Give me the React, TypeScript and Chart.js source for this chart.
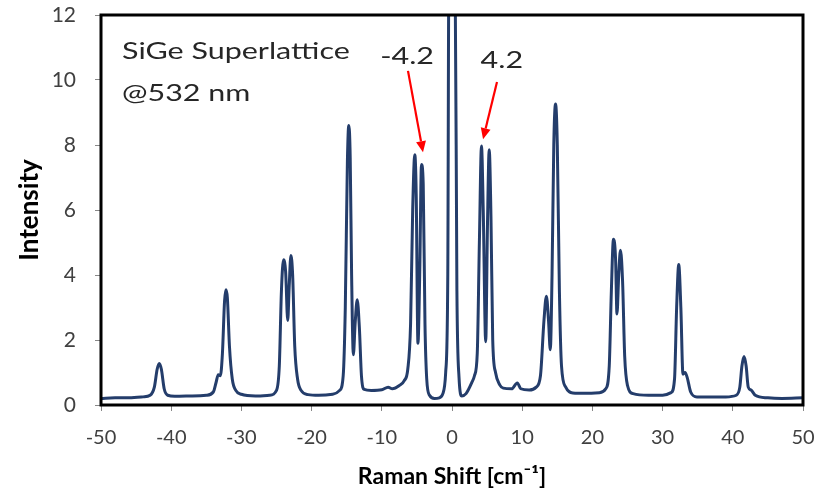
import React, { useEffect, useRef } from "react";
import { Chart, registerables } from "chart.js";

Chart.register(...registerables);

// Raman shift (cm^-1) sample positions
const shifts: number[] = [
  -50, -48, -46, -44, -43, -42.4, -42.0, -41.7, -41.4, -41.0, -40.5, -39.5, -37, -35,
  -34, -33.6, -33.3, -33.0, -32.7, -32.4, -32.2, -32.0, -31.7, -31.3, -30.8, -30, -28, -26,
  -25, -24.6, -24.3, -24.0, -23.7, -23.4, -23.2, -22.95, -22.7, -22.4, -22.0, -21.5, -20.5,
  -19, -17, -16, -15.5, -15.2, -14.9, -14.7, -14.5, -14.3, -14.05, -13.8, -13.5, -13.2,
  -12.9, -12.5, -11.5, -10, -9.1, -8.5, -7.5, -6.8, -6.3, -5.9, -5.6, -5.3, -5.1, -4.85,
  -4.6, -4.35, -4.1, -3.85, -3.6, -3.2, -2.5, -1.8, -1.3, -0.9, -0.6, -0.45, 0.45, 0.7,
  1.0, 1.4, 2.0, 2.8, 3.2, 3.6, 3.9, 4.2, 4.45, 4.8, 5.05, 5.3, 5.55, 5.8, 6.2, 6.8, 7.3,
  8.5, 9.3, 9.8, 11, 12, 12.6, 13.1, 13.45, 13.75, 14.0, 14.25, 14.5, 14.75, 15.0, 15.3,
  15.6, 16.2, 17.2, 19, 21, 21.9, 22.4, 22.7, 23.0, 23.3, 23.5, 23.75, 24.0, 24.3, 24.6,
  25.0, 25.8, 28, 30, 31.2, 31.7, 32.0, 32.3, 32.6, 32.9, 33.2, 33.5, 34.0, 34.9, 37, 39,
  40.5, 41.0, 41.3, 41.6, 41.9, 42.2, 42.6, 43.2, 45, 47, 50,
];

// Intensity at each shift
const intensities: number[] = [
  0.2, 0.22, 0.22, 0.25, 0.3, 0.55, 1.1, 1.28, 1.1, 0.5, 0.3, 0.27, 0.28, 0.3,
  0.4, 0.7, 0.93, 0.9, 1.6, 3.2, 3.55, 3.3, 1.8, 0.8, 0.45, 0.33, 0.28, 0.3,
  0.45, 1.2, 3.5, 4.47, 4.1, 2.6, 3.6, 4.6, 4.0, 1.8, 0.8, 0.45, 0.32,
  0.3, 0.33, 0.45, 0.9, 3.0, 7.5, 8.6, 7.6, 4.0, 1.55, 2.5, 3.24, 2.4,
  0.9, 0.48, 0.45, 0.47, 0.55, 0.5, 0.6, 0.75, 1.1, 2.5, 6.0, 7.7, 6.5, 1.9,
  4.0, 7.4, 6.8, 2.5, 0.8, 0.3, 0.2, 0.22, 0.35, 1.0, 4.0, 13, 13, 3.5,
  0.85, 0.28, 0.35, 0.68, 0.9, 1.6, 5.0, 7.97, 6.0, 1.95, 5.5, 7.85, 5.8, 2.0, 1.0, 0.62, 0.52,
  0.5, 0.68, 0.5, 0.46, 0.55, 0.9, 2.6, 3.35, 2.6, 1.7, 4.0, 8.0, 9.26, 8.0, 3.5,
  1.2, 0.55, 0.37, 0.36, 0.38, 0.5, 1.2, 3.5, 5.1, 4.5, 2.8, 4.0, 4.76, 3.8, 1.5,
  0.6, 0.35, 0.3, 0.3, 0.38, 0.8, 3.0, 4.32, 3.0, 0.95, 1.0, 0.85, 0.4, 0.25, 0.25, 0.25,
  0.3, 0.55, 1.2, 1.49, 1.2, 0.55, 0.46, 0.3, 0.22, 0.2, 0.22,
];

const xTicks: number[] = [-50, -40, -30, -20, -10, 0, 10, 20, 30, 40, 50];
const yTicks: number[] = [0, 2, 4, 6, 8, 10, 12];

const labelLines: string[] = ["SiGe Superlattice", "@532 nm"];
// arrow annotations in data coordinates: label anchor, arrow start, arrow tip
const arrowLabels: { text: string; at: [number, number]; from: [number, number]; to: [number, number] }[] = [
  { text: "-4.2", at: [-6.4, 10.49], from: [-6.27, 10.28], to: [-4.13, 7.78] },
  { text: "4.2", at: [7.1, 10.37], from: [6.41, 9.94], to: [4.42, 8.18] },
];

const FONT = "Lato, 'Open Sans', sans-serif";

export default function App() {
  const canvasRef = useRef<HTMLCanvasElement | null>(null);

  useEffect(() => {
    document.body.style.margin = "0";
    const canvas = canvasRef.current;
    if (!canvas) return;

    const stretchText = (ctx: any, text: string, x: number, y: number, align: string) => {
      const sx = 1.27;
      const w = ctx.measureText(text).width * sx;
      let left = x;
      if (align === "center") left = x - w / 2;
      ctx.save();
      ctx.translate(left, y);
      ctx.scale(sx, 1);
      ctx.textAlign = "left";
      ctx.fillText(text, 0, 0);
      ctx.restore();
    };

    const overlay = {
      id: "overlay",
      afterDraw(chart: any) {
        const { ctx, chartArea } = chart;
        const xs = chart.scales.x;
        const ys = chart.scales.y;
        ctx.save();
        // plot border
        ctx.strokeStyle = "#000";
        ctx.lineWidth = 3;
        ctx.strokeRect(chartArea.left, chartArea.top, chartArea.right - chartArea.left, chartArea.bottom - chartArea.top);

        // inset label
        ctx.fillStyle = "#262626";
        ctx.font = `24px ${FONT}`;
        ctx.textBaseline = "alphabetic";
        stretchText(ctx, labelLines[0], chartArea.left + 21, 59, "left");
        stretchText(ctx, labelLines[1], chartArea.left + 21, 101, "left");

        // arrow annotations
        arrowLabels.forEach((a) => {
          const x1 = xs.getPixelForValue(a.from[0]);
          const y1 = ys.getPixelForValue(a.from[1]);
          const x2 = xs.getPixelForValue(a.to[0]);
          const y2 = ys.getPixelForValue(a.to[1]);
          ctx.fillStyle = "#262626";
          ctx.font = `24px ${FONT}`;
          stretchText(ctx, a.text, xs.getPixelForValue(a.at[0]), ys.getPixelForValue(a.at[1]), "center");
          ctx.strokeStyle = "#ff0000";
          ctx.fillStyle = "#ff0000";
          ctx.lineWidth = 2.2;
          const ang = Math.atan2(y2 - y1, x2 - x1);
          const hl = 11;
          const bx = x2 - hl * Math.cos(ang);
          const by = y2 - hl * Math.sin(ang);
          ctx.beginPath();
          ctx.moveTo(x1, y1);
          ctx.lineTo(bx, by);
          ctx.stroke();
          ctx.beginPath();
          ctx.moveTo(x2, y2);
          ctx.lineTo(bx + 5 * Math.sin(ang), by - 5 * Math.cos(ang));
          ctx.lineTo(bx - 5 * Math.sin(ang), by + 5 * Math.cos(ang));
          ctx.closePath();
          ctx.fill();
        });
        ctx.restore();
      },
    };

    const chart = new Chart(canvas, {
      type: "line",
      data: {
        datasets: [
          {
            data: shifts.map((x, i) => ({ x, y: intensities[i] })),
            borderColor: "#243d6b",
            borderWidth: 3,
            pointRadius: 0,
            fill: false,
            cubicInterpolationMode: "monotone",
          },
        ],
      },
      options: {
        animation: false,
        responsive: false,
        maintainAspectRatio: false,
        layout: { padding: { top: 15, right: 27, left: 0, bottom: 0 } },
        plugins: { legend: { display: false }, tooltip: { enabled: false } },
        scales: {
          x: {
            type: "linear",
            min: -50,
            max: 50,
            afterBuildTicks: (s: any) => {
              s.ticks = xTicks.map((v) => ({ value: v }));
            },
            afterFit: (s: any) => {
              s.height = 86;
              s.paddingLeft = 0;
              s.paddingRight = 0;
            },
            ticks: { color: "#404040", font: { family: FONT, size: 20 }, padding: 15, maxRotation: 0 },
            grid: { drawOnChartArea: false, drawTicks: true, tickLength: 6, color: "#888" },
            border: { display: false },
            title: {
              display: true,
              text: "Raman Shift [cm⁻¹]",
              color: "#000",
              font: { family: FONT, size: 23, weight: "bold" },
              padding: { top: 0, bottom: 1 },
            },
          },
          y: {
            type: "linear",
            min: 0,
            max: 12,
            afterBuildTicks: (s: any) => {
              s.ticks = yTicks.map((v) => ({ value: v }));
            },
            afterFit: (s: any) => {
              s.width = 101;
              s.paddingTop = 0;
              s.paddingBottom = 0;
            },
            ticks: { color: "#404040", font: { family: FONT, size: 21 }, padding: 19 },
            grid: { drawOnChartArea: false, drawTicks: true, tickLength: 6, color: "#888" },
            border: { display: false },
            title: {
              display: true,
              text: "Intensity",
              color: "#000",
              font: { family: FONT, size: 26, weight: "bold" },
              padding: { top: 14, bottom: 0 },
            },
          },
        },
      },
      plugins: [overlay],
    } as any);

    return () => chart.destroy();
  }, []);

  return <canvas ref={canvasRef} width={830} height={491} style={{ display: "block" }} />;
}
